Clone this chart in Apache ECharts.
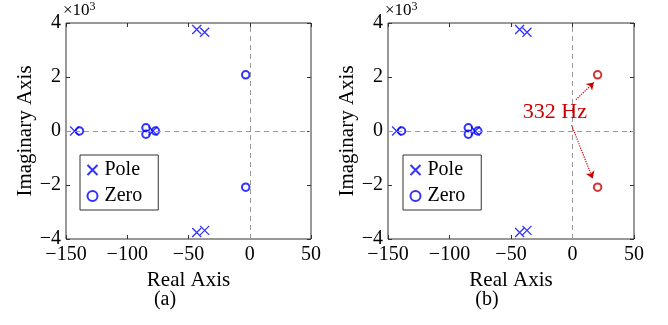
<!DOCTYPE html>
<html><head><meta charset="utf-8">
<script src="https://cdn.jsdelivr.net/npm/echarts@6/dist/echarts.min.js"></script>
<style>html,body{margin:0;padding:0;background:#fff}#c{width:668px;height:325px}</style>
</head><body><div id="c"></div>
<script>
// Panel (a)
const polesA_re = [-43.3, -36.8, -43.3, -36.8, -143, -79];
const polesA_im = [3760, 3660, -3760, -3680, 0, 0];
const zerosA_re = [-139, -84.7, -84.7, -77, -3.3, -3.3];
const zerosA_im = [0, 120, -120, 0, 2080, -2080];
// Panel (b)
const polesB_re = [-43, -37, -43, -37, -143, -79];
const polesB_im = [3760, 3660, -3760, -3680, 0, 0];
const zerosB_re = [-139, -84.7, -84.7, -77];
const zerosB_im = [0, 120, -120, 0];
const unstableB_re = [20.4, 20.4];
const unstableB_im = [2080, -2080];
const xTicks = [-150, -100, -50, 0, 50];
const yTicks = [-4, -2, 0, 2, 4];
const annotText = '332 Hz';

const FONT = "'Liberation Serif','Times New Roman',serif";
const BLUE = '#0000ff', RED = '#c80000', AX = '#333';
const pair = (re, im) => re.map((v, i) => [v, im[i]]);
const minus = s => String(s).replace('-', '\u2212');
const CROSS = 'path://M0,0L10,10M10,0L0,10';

const grids = [
  {left: 66, top: 23, width: 245, height: 216, show: true, borderColor: AX, borderWidth: 1},
  {left: 388, top: 23, width: 246, height: 216, show: true, borderColor: AX, borderWidth: 1}
];
const xAxes = [], yAxes = [];
[0, 1].forEach(g => {
  const base = {gridIndex: g, type: 'value', min: xTicks[0], max: xTicks[xTicks.length - 1], interval: 50,
    splitLine: {show: false}, axisLine: {show: false, onZero: false}, axisTick: {inside: true, length: 4, lineStyle: {color: AX}}};
  xAxes.push(Object.assign({}, base, {position: 'bottom', name: 'Real Axis', nameLocation: 'middle', nameGap: 26,
    nameTextStyle: {fontFamily: FONT, fontSize: 21, color: '#000'},
    axisLabel: {fontFamily: FONT, fontSize: 20, color: '#000', margin: 6, formatter: v => minus(v)}}));
  xAxes.push(Object.assign({}, base, {position: 'top', axisLabel: {show: false}}));
  const ybase = {gridIndex: g, type: 'value', min: yTicks[0] * 1000, max: yTicks[yTicks.length - 1] * 1000, interval: 2000,
    splitLine: {show: false}, axisLine: {show: false, onZero: false}, axisTick: {inside: true, length: 4, lineStyle: {color: AX}}};
  yAxes.push(Object.assign({}, ybase, {position: 'left', name: 'Imaginary Axis', nameLocation: 'middle', nameGap: 30,
    nameTextStyle: {fontFamily: FONT, fontSize: 21, color: '#000'},
    axisLabel: {fontFamily: FONT, fontSize: 20, color: '#000', margin: 5, formatter: v => minus(v / 1000)}}));
  yAxes.push(Object.assign({}, ybase, {position: 'right', axisLabel: {show: false}}));
});

const zeroLines = {silent: true, symbol: 'none', label: {show: false},
  lineStyle: {color: '#999', type: [5, 4], width: 1}, data: [{xAxis: 0}, {yAxis: 0}]};

function poleSeries(g, re, im) {
  return {type: 'scatter', name: 'Pole', xAxisIndex: g * 2, yAxisIndex: g * 2, data: pair(re, im),
    symbol: CROSS, symbolSize: 9, itemStyle: {color: 'none', borderColor: BLUE, borderWidth: 1.3},
    markLine: zeroLines, z: 3};
}
function zeroSeries(g, re, im) {
  return {type: 'scatter', name: 'Zero', xAxisIndex: g * 2, yAxisIndex: g * 2, data: pair(re, im),
    symbol: 'circle', symbolSize: 7.5, itemStyle: {color: 'none', borderColor: BLUE, borderWidth: 2}, z: 3};
}

const series = [
  poleSeries(0, polesA_re, polesA_im), zeroSeries(0, zerosA_re, zerosA_im),
  poleSeries(1, polesB_re, polesB_im), zeroSeries(1, zerosB_re, zerosB_im),
  {type: 'scatter', name: 'Unstable', xAxisIndex: 2, yAxisIndex: 2, data: pair(unstableB_re, unstableB_im),
   symbol: 'circle', symbolSize: 7.5, itemStyle: {color: 'none', borderColor: RED, borderWidth: 2}, z: 4,
   markLine: {silent: true, symbol: ['none', 'arrow'], symbolSize: 7, label: {show: false},
     lineStyle: {color: RED, type: 'dotted', width: 1.2},
     data: [[{coord: [2.8, 1160]}, {coord: [17.4, 1800]}], [{coord: [-0.7, 210]}, {coord: [16.4, -1760]}]]},
   markPoint: {silent: true, symbol: 'circle', symbolSize: 1, itemStyle: {color: 'rgba(0,0,0,0)'},
     data: [{coord: [-14.3, 700], value: annotText}],
     label: {show: true, formatter: annotText, fontFamily: FONT, fontSize: 22, color: RED, position: 'inside'}}}
];

const legendBase = {orient: 'vertical', data: ['Pole', 'Zero'], borderColor: AX, borderWidth: 1,
  padding: [5, 16, 4, 5], itemGap: 6, itemWidth: 10, itemHeight: 10, selectedMode: false,
  textStyle: {fontFamily: FONT, fontSize: 20, color: '#000', padding: [0, 0, 0, 2]}};

const graphic = [
  {type: 'text', left: 63, top: 1, style: {text: '{a|\u00d710}{b|3}', rich: {a: {fontFamily: FONT, fontSize: 17, fill: '#000'}, b: {fontFamily: FONT, fontSize: 12, fill: '#000', verticalAlign: 'top', padding: [0, 0, 8, 0]}}}},
  {type: 'text', left: 385, top: 1, style: {text: '{a|\u00d710}{b|3}', rich: {a: {fontFamily: FONT, fontSize: 17, fill: '#000'}, b: {fontFamily: FONT, fontSize: 12, fill: '#000', verticalAlign: 'top', padding: [0, 0, 8, 0]}}}},
  {type: 'text', x: 165, y: 300, style: {text: '(a)', fontFamily: FONT, fontSize: 20, fill: '#000', align: 'center', verticalAlign: 'middle'}},
  {type: 'text', x: 487, y: 300, style: {text: '(b)', fontFamily: FONT, fontSize: 20, fill: '#000', align: 'center', verticalAlign: 'middle'}}
];

const chart = echarts.init(document.getElementById('c'), null, {renderer: 'canvas'});
chart.setOption({
  animation: false,
  grid: grids, xAxis: xAxes, yAxis: yAxes, series: series,
  legend: [Object.assign({}, legendBase, {left: 80, top: 155}), Object.assign({}, legendBase, {left: 403, top: 155})],
  graphic: graphic
});
</script></body></html>
